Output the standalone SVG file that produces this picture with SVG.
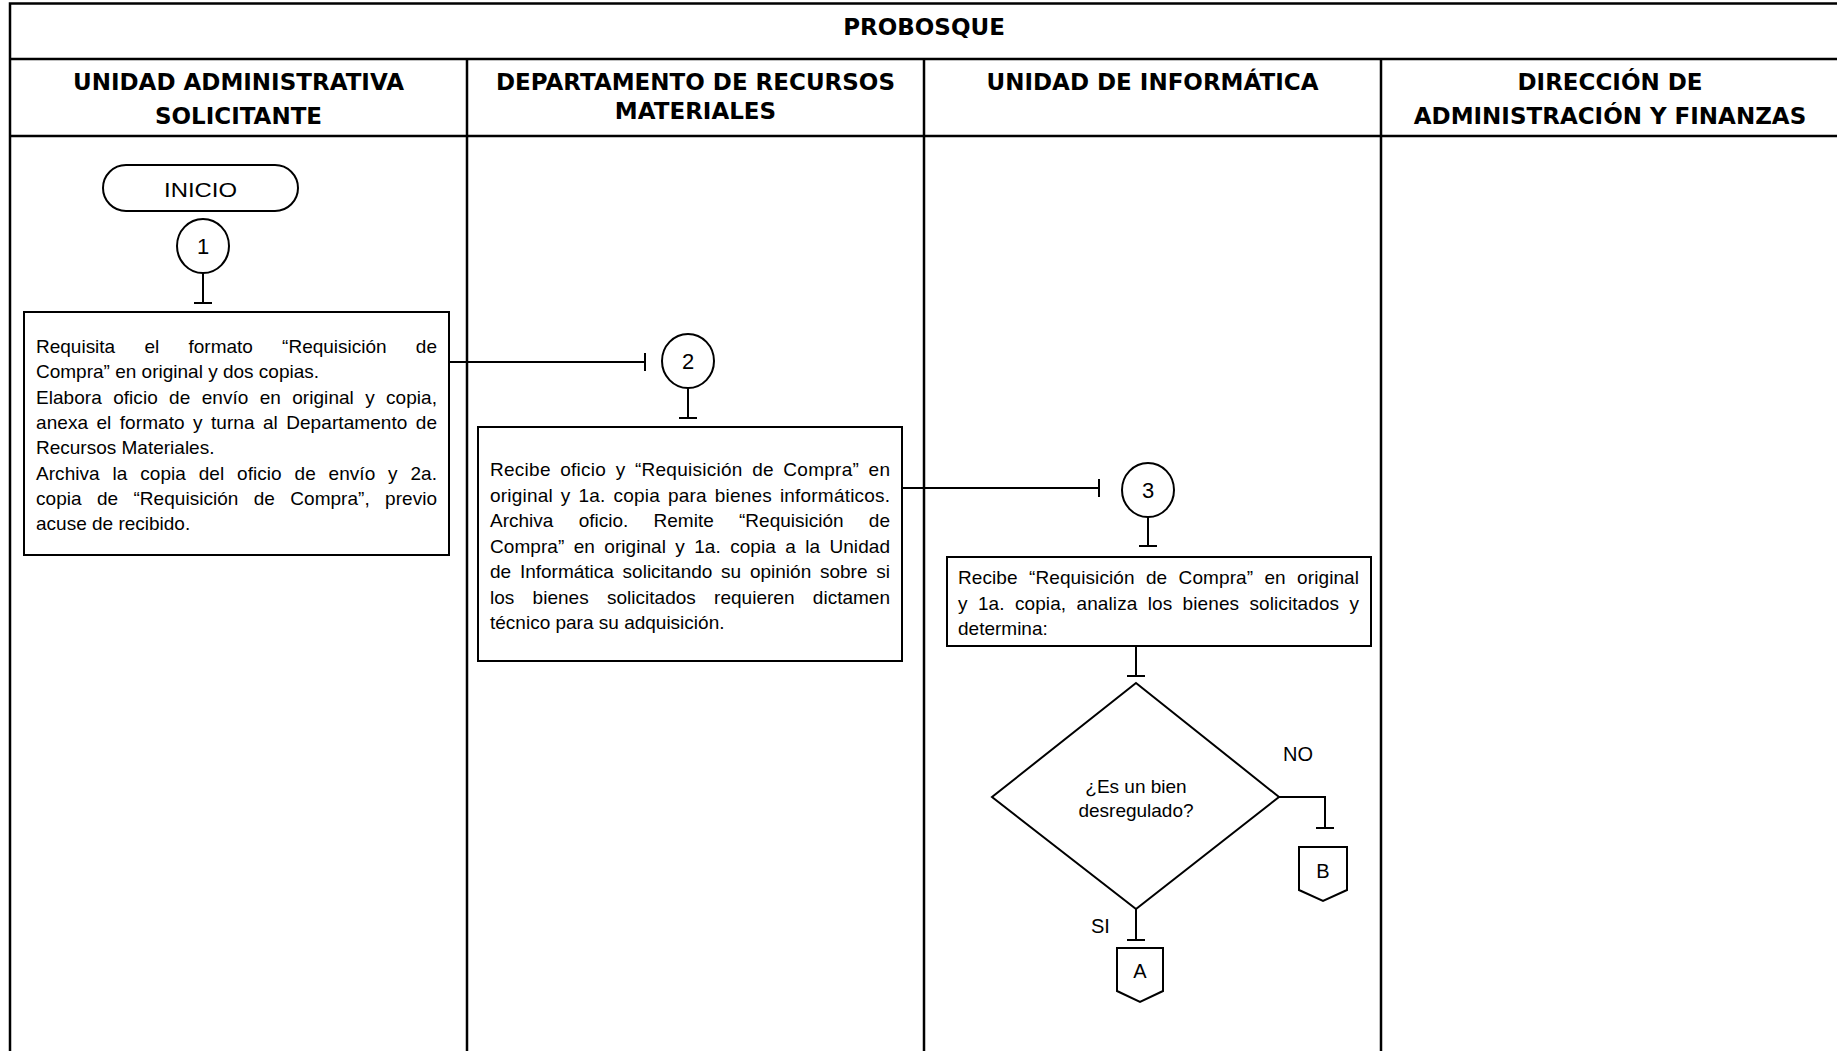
<svg xmlns="http://www.w3.org/2000/svg" width="1837" height="1051" viewBox="0 0 1837 1051">
<style>
.grid{stroke:#000;stroke-width:2.5;fill:none}
.shape{stroke:#000;stroke-width:2;fill:#fff}
.conn{stroke:#000;stroke-width:2;fill:none}
.hdr{font-family:"DejaVu Sans",Verdana,sans-serif;font-weight:bold;font-size:23px;fill:#000;text-anchor:middle}
.body{font-family:"Liberation Sans",Arial,sans-serif;font-size:19px;fill:#000}
.lbl{font-family:"Liberation Sans",Arial,sans-serif;font-size:20px;fill:#000}
.num{font-family:"Liberation Sans",Arial,sans-serif;font-size:22px;fill:#000;text-anchor:middle}
.mid{text-anchor:middle}
</style>
<defs>
<marker id="tee" viewBox="-2 -10 4 20" refX="0" refY="0" markerWidth="4" markerHeight="20" markerUnits="userSpaceOnUse" orient="auto">
<path d="M0,-9 L0,9" stroke="#000" stroke-width="2"/>
</marker>
</defs>
<rect width="1837" height="1051" fill="#fff"/>
<g id="table">
<path class="grid" d="M10,1051 V3.5 H1837 M10,59 H1837 M10,136 H1837 M467,59 V1051 M924,59 V1051 M1381,59 V1051"/>
<text class="hdr" x="924" y="35">PROBOSQUE</text>
<text class="hdr" x="238.5" y="90">UNIDAD ADMINISTRATIVA</text>
<text class="hdr" x="238.5" y="124">SOLICITANTE</text>
<text class="hdr" x="695.5" y="90">DEPARTAMENTO DE RECURSOS</text>
<text class="hdr" x="695.5" y="119">MATERIALES</text>
<text class="hdr" x="1152.5" y="90">UNIDAD DE INFORMÁTICA</text>
<text class="hdr" x="1610" y="90">DIRECCIÓN DE</text>
<text class="hdr" x="1610" y="124">ADMINISTRACIÓN Y FINANZAS</text>
</g>
<g id="connectors">
<path class="conn" d="M203,273 V303" marker-end="url(#tee)"/>
<path class="conn" d="M449,362 H645" marker-end="url(#tee)"/>
<path class="conn" d="M688,388 V418" marker-end="url(#tee)"/>
<path class="conn" d="M902,488 H1099" marker-end="url(#tee)"/>
<path class="conn" d="M1148,517 V546" marker-end="url(#tee)"/>
<path class="conn" d="M1136,647 V676" marker-end="url(#tee)"/>
<path class="conn" d="M1279,797 H1325 V828" marker-end="url(#tee)"/>
<path class="conn" d="M1136,909 V940" marker-end="url(#tee)"/>
<text class="lbl" x="1283" y="761">NO</text>
<text class="lbl" x="1091" y="933">SI</text>
</g>
<g id="inicio">
<rect class="shape" x="103" y="165" width="195" height="46" rx="23" ry="23"/>
<text class="lbl mid" x="200.5" y="197" font-size="23" textLength="73" lengthAdjust="spacingAndGlyphs">INICIO</text>
</g>
<g id="c1">
<ellipse class="shape" cx="203" cy="246" rx="26" ry="27"/>
<text class="num" x="203" y="254">1</text>
</g>
<g id="box1">
<rect class="shape" x="24" y="312" width="425" height="243"/>
<text class="body" x="36" y="353" textLength="401" lengthAdjust="spacing" word-spacing="24">Requisita el formato “Requisición de</text>
<text class="body" x="36" y="378">Compra” en original y dos copias.</text>
<text class="body" x="36" y="403.5" textLength="401" lengthAdjust="spacing" word-spacing="6">Elabora oficio de envío en original y copia,</text>
<text class="body" x="36" y="429" textLength="401" lengthAdjust="spacing" word-spacing="3">anexa el formato y turna al Departamento de</text>
<text class="body" x="36" y="454">Recursos Materiales.</text>
<text class="body" x="36" y="479.5" textLength="401" lengthAdjust="spacing" word-spacing="7.5">Archiva la copia del oficio de envío y 2a.</text>
<text class="body" x="36" y="505" textLength="401" lengthAdjust="spacing" word-spacing="10">copia de “Requisición de Compra”, previo</text>
<text class="body" x="36" y="530">acuse de recibido.</text>
</g>
<g id="c2">
<ellipse class="shape" cx="688" cy="361" rx="26" ry="27"/>
<text class="num" x="688" y="369">2</text>
</g>
<g id="box2">
<rect class="shape" x="478" y="427" width="424" height="234"/>
<text class="body" x="490" y="476" textLength="400" lengthAdjust="spacing" word-spacing="4">Recibe oficio y “Requisición de Compra” en</text>
<text class="body" x="490" y="501.5" textLength="400" lengthAdjust="spacing" word-spacing="2.5">original y 1a. copia para bienes informáticos.</text>
<text class="body" x="490" y="527" textLength="400" lengthAdjust="spacing" word-spacing="20">Archiva oficio. Remite “Requisición de</text>
<text class="body" x="490" y="552.5" textLength="400" lengthAdjust="spacing" word-spacing="4">Compra” en original y 1a. copia a la Unidad</text>
<text class="body" x="490" y="578" textLength="400" lengthAdjust="spacing" word-spacing="3.5">de Informática solicitando su opinión sobre si</text>
<text class="body" x="490" y="603.5" textLength="400" lengthAdjust="spacing" word-spacing="13">los bienes solicitados requieren dictamen</text>
<text class="body" x="490" y="629">técnico para su adquisición.</text>
</g>
<g id="c3">
<ellipse class="shape" cx="1148" cy="490" rx="26" ry="27"/>
<text class="num" x="1148" y="498">3</text>
</g>
<g id="box3">
<rect class="shape" x="947" y="557" width="424" height="89"/>
<text class="body" x="958" y="584" textLength="401" lengthAdjust="spacing" word-spacing="6">Recibe “Requisición de Compra” en original</text>
<text class="body" x="958" y="609.5" textLength="401" lengthAdjust="spacing" word-spacing="5">y 1a. copia, analiza los bienes solicitados y</text>
<text class="body" x="958" y="635">determina:</text>
</g>
<g id="decision">
<polygon class="shape" points="1136,683 1279,797 1136,909 992,797"/>
<text class="body mid" x="1136" y="793" font-size="18">¿Es un bien</text>
<text class="body mid" x="1136" y="817" font-size="18">desregulado?</text>
</g>
<g id="offA">
<polygon class="shape" points="1117,948 1163,948 1163,991 1140,1002 1117,991"/>
<text class="lbl mid" x="1140" y="978" font-size="21">A</text>
</g>
<g id="offB">
<polygon class="shape" points="1299,847 1347,847 1347,890 1323,901 1299,890"/>
<text class="lbl mid" x="1323" y="878" font-size="21">B</text>
</g>
</svg>
